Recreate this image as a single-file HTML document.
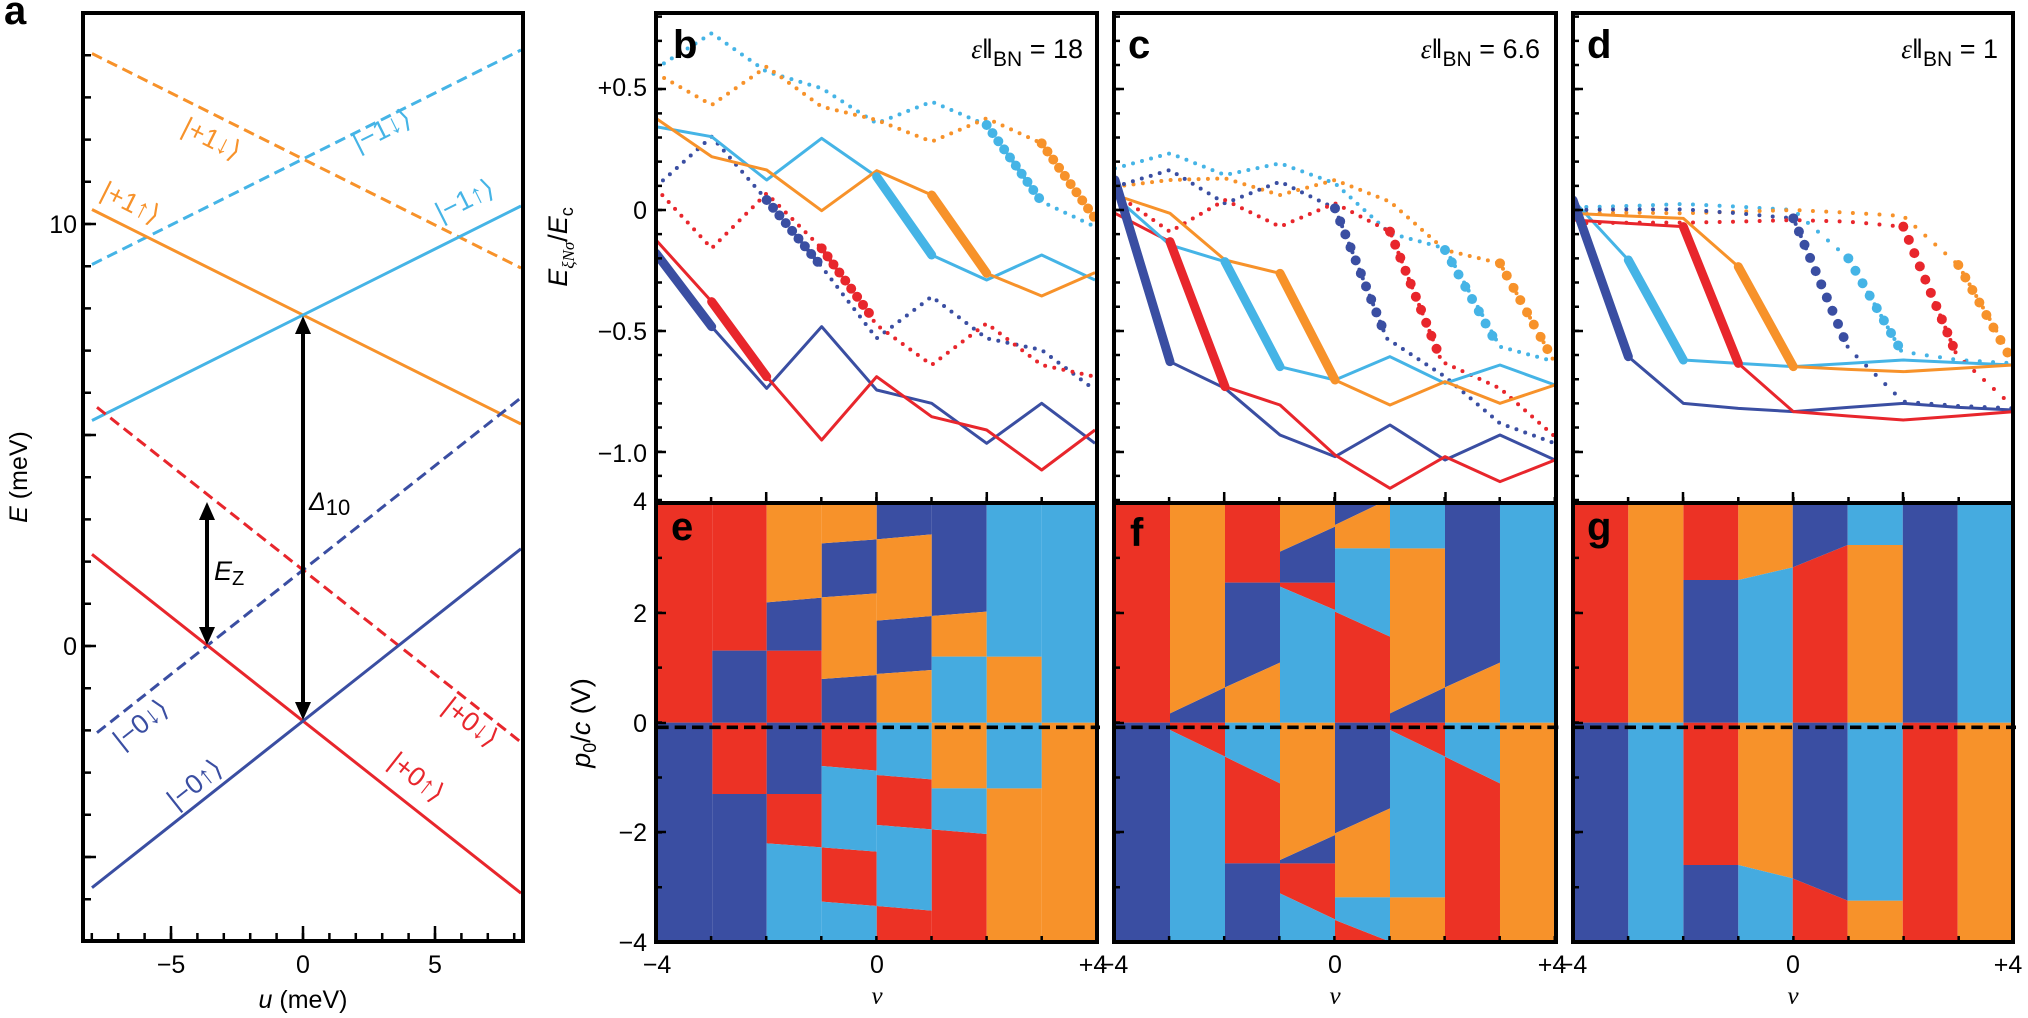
<!DOCTYPE html>
<html><head><meta charset="utf-8"><style>
html,body{margin:0;padding:0;background:#fff;}
svg{display:block;font-family:"Liberation Sans",sans-serif;}
</style></head><body>
<svg width="2028" height="1018" viewBox="0 0 2028 1018" xmlns="http://www.w3.org/2000/svg">
<defs>
<clipPath id="ca"><rect x="83" y="13" width="440" height="928"/></clipPath>
<clipPath id="cb"><rect x="656" y="13" width="441" height="490"/></clipPath>
<clipPath id="cc"><rect x="1114" y="13" width="442" height="490"/></clipPath>
<clipPath id="cd"><rect x="1573" y="13" width="440" height="490"/></clipPath>
</defs>

<!-- ============ PANEL A ============ -->
<g clip-path="url(#ca)" fill="none" stroke-width="3">
 <line x1="92" y1="53.5" x2="521" y2="268" stroke="#f7922a" stroke-dasharray="11 6"/>
 <line x1="92" y1="264.5" x2="521" y2="50" stroke="#45b4e6" stroke-dasharray="11 6"/>
 <line x1="92" y1="209.5" x2="521" y2="424" stroke="#f7922a"/>
 <line x1="92" y1="420.5" x2="521" y2="206" stroke="#45b4e6"/>
 <line x1="97" y1="407.3" x2="521" y2="742.2" stroke="#e8262c" stroke-dasharray="11 6"/>
 <line x1="97" y1="732.7" x2="521" y2="397.8" stroke="#3a4ea2" stroke-dasharray="11 6"/>
 <line x1="92" y1="554.3" x2="521" y2="893.2" stroke="#e8262c"/>
 <line x1="92" y1="887.7" x2="521" y2="548.8" stroke="#3a4ea2"/>
</g>
<g stroke="#000" stroke-width="4">
 <line x1="303" y1="330" x2="303" y2="706"/>
 <line x1="207" y1="516" x2="207" y2="632"/>
</g>
<g fill="#000">
 <polygon points="303,316 295,334 311,334"/>
 <polygon points="303,720 295,702 311,702"/>
 <polygon points="207,502 199,520 215,520"/>
 <polygon points="207,645 199,627 215,627"/>
</g>
<text x="309" y="510" font-size="25" font-style="italic">Δ<tspan font-style="normal" font-size="22" dy="5">10</tspan></text>
<text x="214" y="580" font-size="27" font-style="italic">E<tspan font-style="normal" font-size="20" dy="5">Z</tspan></text>
<g font-size="27">
 <text transform="translate(180,133) rotate(26.6)" fill="#f7922a">|+1↓⟩</text>
 <text transform="translate(358,152) rotate(-26.6)" fill="#45b4e6">|−1↓⟩</text>
 <text transform="translate(99,197) rotate(26.6)" fill="#f7922a">|+1↑⟩</text>
 <text transform="translate(441,222) rotate(-26.6)" fill="#45b4e6">|−1↑⟩</text>
 <text transform="translate(122,750) rotate(-38.3)" fill="#3a4ea2">|−0↓⟩</text>
 <text transform="translate(441,710) rotate(38.3)" fill="#e8262c">|+0↓⟩</text>
 <text transform="translate(176,810) rotate(-38.3)" fill="#3a4ea2">|−0↑⟩</text>
 <text transform="translate(387,765) rotate(38.3)" fill="#e8262c">|+0↑⟩</text>
</g>
<line x1="87" y1="11.75" x2="87" y2="941" stroke="#000" stroke-width="8" stroke-dasharray="2.5 39.7"/>
<g stroke="#000" stroke-width="2.5">
 <line x1="83" y1="224" x2="96" y2="224"/><line x1="83" y1="435" x2="96" y2="435"/>
 <line x1="83" y1="646" x2="96" y2="646"/><line x1="83" y1="857" x2="96" y2="857"/>
 <line x1="171" y1="941" x2="171" y2="926"/><line x1="303" y1="941" x2="303" y2="926"/><line x1="435" y1="941" x2="435" y2="926"/>
</g>
<line x1="90.55" y1="937" x2="516" y2="937" stroke="#000" stroke-width="8" stroke-dasharray="2.5 23.9"/>
<rect x="83" y="13" width="440" height="928" fill="none" stroke="#000" stroke-width="4"/>
<g font-size="25">
 <text x="77" y="233" text-anchor="end">10</text>
 <text x="77" y="655" text-anchor="end">0</text>
 <text x="171" y="973" text-anchor="middle">−5</text>
 <text x="303" y="973" text-anchor="middle">0</text>
 <text x="435" y="973" text-anchor="middle">5</text>
 <text x="303" y="1008" text-anchor="middle"><tspan font-style="italic">u</tspan> (meV)</text>
 <text transform="translate(27,477) rotate(-90)" text-anchor="middle"><tspan font-style="italic">E</tspan> (meV)</text>
</g>
<text x="4" y="24" font-size="40" font-weight="bold">a</text>

<!-- ============ PANEL B ============ -->
<g clip-path="url(#cb)"><g transform="translate(640,0) scale(0.33333)" fill="none" stroke-linejoin="round">
 <g stroke-width="12" stroke-linecap="round" stroke-dasharray="0 28">
  <polyline stroke="#45b4e6" points="48,205 215,100 380,215 545,265 710,370 875,305 1040,375 1205,605 1365,680"/>
  <polyline stroke="#f7922a" points="48,220 215,315 380,200 545,320 710,360 875,425 1040,355 1205,430 1365,655"/>
  <polyline stroke="#3a4ea2" points="48,560 215,410 380,600 545,800 710,1015 875,890 1040,1015 1205,1050 1365,1170"/>
  <polyline stroke="#e8262c" points="48,565 215,745 380,580 545,745 710,975 875,1095 1040,970 1205,1095 1365,1130"/>
 </g>
 <g stroke-width="30" stroke-linecap="round" stroke-dasharray="0 30">
  <polyline stroke="#45b4e6" points="1040,375 1205,605"/>
  <polyline stroke="#f7922a" points="1205,430 1365,655"/>
  <polyline stroke="#3a4ea2" points="380,600 545,800"/>
  <polyline stroke="#e8262c" points="545,745 695,950"/>
 </g>
 <g stroke-width="9">
  <polyline stroke="#3a4ea2" points="48,760 215,980 380,1165 545,980 710,1170 875,1210 1040,1330 1205,1210 1365,1330"/>
  <polyline stroke="#e8262c" points="48,720 215,905 380,1130 545,1320 710,1130 875,1250 1040,1290 1205,1410 1365,1290"/>
  <polyline stroke="#45b4e6" points="48,380 215,410 380,540 545,415 710,530 875,765 1040,840 1205,765 1365,840"/>
  <polyline stroke="#f7922a" points="48,355 215,470 380,510 545,632 710,512 875,585 1040,820 1205,888 1365,818"/>
 </g>
 <g stroke-width="27" stroke-linecap="round">
  <line stroke="#3a4ea2" x1="48" y1="760" x2="215" y2="980"/>
  <line stroke="#e8262c" x1="215" y1="905" x2="380" y2="1130"/>
  <line stroke="#45b4e6" x1="710" y1="530" x2="875" y2="765"/>
  <line stroke="#f7922a" x1="875" y1="585" x2="1040" y2="820"/>
 </g>
</g></g>

<!-- ============ PANEL C ============ -->
<g clip-path="url(#cc)"><g transform="translate(1130,0) scale(0.33333)" fill="none" stroke-linejoin="round">
 <g stroke-width="12" stroke-linecap="round" stroke-dasharray="0 28">
  <polyline stroke="#45b4e6" points="-45,505 120,460 285,525 450,490 615,550 780,700 945,745 1110,1040 1275,1085"/>
  <polyline stroke="#f7922a" points="-45,560 120,540 285,535 450,585 615,540 780,605 945,750 1110,790 1270,1080"/>
  <polyline stroke="#3a4ea2" points="-45,560 120,510 285,610 450,545 615,625 770,1015 945,1130 1110,1270 1275,1330"/>
  <polyline stroke="#e8262c" points="-45,580 120,695 285,600 450,680 615,610 780,695 935,1085 1110,1165 1275,1310"/>
 </g>
 <g stroke-width="30" stroke-linecap="round" stroke-dasharray="0 42">
  <polyline stroke="#45b4e6" points="945,750 1105,1040"/>
  <polyline stroke="#f7922a" points="1110,790 1270,1080"/>
  <polyline stroke="#3a4ea2" points="615,625 770,1015"/>
  <polyline stroke="#e8262c" points="780,695 935,1085"/>
 </g>
 <g stroke-width="9">
  <polyline stroke="#3a4ea2" points="-45,540 120,1085 285,1165 450,1305 615,1370 780,1275 945,1380 1110,1305 1275,1380"/>
  <polyline stroke="#e8262c" points="-45,640 120,725 285,1160 450,1215 615,1365 780,1465 945,1370 1110,1445 1275,1380"/>
  <polyline stroke="#45b4e6" points="-45,590 120,735 285,785 450,1100 615,1140 780,1070 945,1150 1110,1095 1275,1155"/>
  <polyline stroke="#f7922a" points="-45,585 120,640 285,780 450,820 615,1140 780,1215 945,1145 1110,1210 1275,1155"/>
 </g>
 <g stroke-width="27" stroke-linecap="round">
  <line stroke="#3a4ea2" x1="-45" y1="540" x2="120" y2="1085"/>
  <line stroke="#e8262c" x1="120" y1="725" x2="285" y2="1160"/>
  <line stroke="#45b4e6" x1="285" y1="785" x2="450" y2="1100"/>
  <line stroke="#f7922a" x1="450" y1="820" x2="615" y2="1140"/>
 </g>
</g></g>

<!-- ============ PANEL D ============ -->
<g clip-path="url(#cd)"><g transform="translate(1600,0) scale(0.33333)" fill="none" stroke-linejoin="round">
 <g stroke-width="12" stroke-linecap="round" stroke-dasharray="0 40">
  <polyline stroke="#45b4e6" points="-81,622 85,618 250,612 415,620 580,630 745,775 905,1055 1075,1080 1240,1090"/>
  <polyline stroke="#f7922a" points="-81,640 85,638 250,640 415,635 580,630 745,638 910,648 1075,795 1240,1080"/>
  <polyline stroke="#3a4ea2" points="-81,630 85,628 250,628 415,640 580,655 745,1045 910,1205 1075,1218 1240,1225"/>
  <polyline stroke="#e8262c" points="-81,670 85,668 250,668 415,665 580,660 745,665 910,680 1070,1065 1240,1220"/>
 </g>
 <g stroke-width="30" stroke-linecap="round" stroke-dasharray="0 43">
  <polyline stroke="#45b4e6" points="745,775 905,1055"/>
  <polyline stroke="#f7922a" points="1075,795 1235,1080"/>
  <polyline stroke="#3a4ea2" points="580,655 745,1045"/>
  <polyline stroke="#e8262c" points="910,680 1070,1065"/>
 </g>
 <g stroke-width="9">
  <polyline stroke="#3a4ea2" points="-81,600 85,1070 250,1210 415,1225 580,1235 745,1222 910,1210 1075,1222 1240,1230"/>
  <polyline stroke="#45b4e6" points="-81,600 85,780 250,1080 415,1090 580,1100 745,1090 910,1080 1075,1088 1240,1095"/>
  <polyline stroke="#e8262c" points="-81,660 85,670 250,680 415,1090 580,1235 745,1248 910,1260 1075,1248 1240,1235"/>
  <polyline stroke="#f7922a" points="-81,640 85,648 250,655 415,800 580,1100 745,1108 910,1115 1075,1105 1240,1095"/>
 </g>
 <g stroke-width="27" stroke-linecap="round">
  <line stroke="#3a4ea2" x1="-81" y1="600" x2="85" y2="1070"/>
  <line stroke="#45b4e6" x1="85" y1="780" x2="250" y2="1080"/>
  <line stroke="#e8262c" x1="250" y1="680" x2="415" y2="1090"/>
  <line stroke="#f7922a" x1="415" y1="800" x2="580" y2="1100"/>
 </g>
</g></g>

<!-- ============ PANEL E ============ -->
<g transform="translate(600,480) scale(0.33333)">
 <g fill="#ec3225">
  <polygon points="172,68 337,68 337,728 172,728"/>
  <polygon points="337,68 500,68 500,512 337,512"/><polygon points="337,728 500,728 500,942 337,942"/>
  <polygon points="500,512 665,512 665,728 500,728"/><polygon points="500,942 665,942 665,1102 500,1090"/>
  <polygon points="665,728 830,728 830,872 665,858"/><polygon points="665,1102 830,1115 830,1278 665,1265"/>
  <polygon points="830,885 995,898 995,1048 830,1035"/><polygon points="830,1278 995,1292 995,1385 830,1385"/>
  <polygon points="995,1048 1160,1062 1160,1385 995,1385"/>
 </g>
 <g fill="#3a4ea2">
  <polygon points="172,728 337,728 337,1385 172,1385"/>
  <polygon points="337,512 500,512 500,728 337,728"/><polygon points="337,942 500,942 500,1385 337,1385"/>
  <polygon points="500,367 665,353 665,512 500,512"/><polygon points="500,728 665,728 665,942 500,942"/>
  <polygon points="665,190 830,178 830,340 665,352"/><polygon points="665,597 830,585 830,728 665,728"/>
  <polygon points="830,68 995,68 995,163 830,178"/><polygon points="830,422 995,408 995,570 830,582"/>
  <polygon points="995,68 1160,68 1160,395 995,408"/>
 </g>
 <g fill="#f7922a">
  <polygon points="500,68 665,68 665,353 500,367"/>
  <polygon points="665,68 830,68 830,178 665,190"/><polygon points="665,352 830,340 830,585 665,597"/>
  <polygon points="830,178 995,163 995,408 830,422"/><polygon points="830,582 995,570 995,728 830,728"/>
  <polygon points="995,408 1160,395 1160,530 995,530"/>
  <polygon points="995,728 1160,728 1160,925 995,925"/>
  <polygon points="1160,530 1325,530 1325,728 1160,728"/><polygon points="1160,925 1325,925 1325,1385 1160,1385"/>
  <polygon points="1325,728 1490,728 1490,1385 1325,1385"/>
 </g>
 <g fill="#45abe0">
  <polygon points="500,1090 665,1102 665,1385 500,1385"/>
  <polygon points="665,858 830,872 830,1115 665,1102"/><polygon points="665,1265 830,1278 830,1385 665,1385"/>
  <polygon points="830,728 995,728 995,898 830,885"/><polygon points="830,1035 995,1048 995,1292 830,1278"/>
  <polygon points="995,530 1160,530 1160,728 995,728"/><polygon points="995,925 1160,925 1160,1062 995,1048"/>
  <polygon points="1160,68 1325,68 1325,530 1160,530"/><polygon points="1160,728 1325,728 1325,925 1160,925"/>
  <polygon points="1325,68 1490,68 1490,728 1325,728"/>
 </g>
 <line x1="172" y1="742" x2="1500" y2="742" stroke="#000" stroke-width="11" stroke-dasharray="34 18"/>
</g>

<!-- ============ PANEL F ============ -->
<g transform="translate(1100,480) scale(0.33333)">
 <g fill="#ec3225">
  <polygon points="42,68 210,68 210,728 42,728"/>
  <polygon points="210,728 375,728 375,830 210,750"/>
  <polygon points="375,68 540,68 540,308 375,308"/><polygon points="375,830 540,910 540,1150 375,1150"/>
  <polygon points="540,308 705,308 705,390 540,320"/><polygon points="540,1150 705,1150 705,1318 540,1240"/>
  <polygon points="705,395 870,470 870,728 705,728"/><polygon points="705,1320 870,1385 705,1385"/>
  <polygon points="870,728 1035,728 1035,830 870,750"/>
  <polygon points="1035,830 1200,910 1200,1385 1035,1385"/>
 </g>
 <g fill="#3a4ea2">
  <polygon points="42,728 210,728 210,1385 42,1385"/>
  <polygon points="210,700 375,622 375,728 210,728"/>
  <polygon points="375,308 540,308 540,548 375,622"/><polygon points="375,1150 540,1150 540,1385 375,1385"/>
  <polygon points="540,215 705,140 705,308 540,308"/><polygon points="540,1140 705,1065 705,1150 540,1150"/>
  <polygon points="705,68 845,68 705,135"/><polygon points="705,728 870,728 870,985 705,1060"/>
  <polygon points="870,700 1035,622 1035,728 870,728"/>
  <polygon points="1035,68 1200,68 1200,548 1035,622"/>
 </g>
 <g fill="#f7922a">
  <polygon points="210,68 375,68 375,622 210,700"/>
  <polygon points="375,622 540,548 540,728 375,728"/>
  <polygon points="540,68 705,68 705,140 540,215"/><polygon points="540,728 705,728 705,1065 540,1140"/>
  <polygon points="705,135 845,68 870,68 870,205 705,205"/><polygon points="705,1060 870,985 870,1252 705,1252"/>
  <polygon points="870,205 1035,205 1035,622 870,700"/><polygon points="870,1252 1035,1252 1035,1385 870,1385"/>
  <polygon points="1035,622 1200,548 1200,728 1035,728"/>
  <polygon points="1200,728 1365,728 1365,1385 1200,1385"/>
 </g>
 <g fill="#45abe0">
  <polygon points="210,750 375,830 375,1385 210,1385"/>
  <polygon points="375,728 540,728 540,910 375,830"/>
  <polygon points="540,320 705,390 705,728 540,728"/><polygon points="540,1240 705,1318 705,1385 540,1385"/>
  <polygon points="705,205 870,205 870,470 705,395"/><polygon points="705,1252 870,1252 870,1385 705,1320"/>
  <polygon points="870,68 1035,68 1035,205 870,205"/><polygon points="870,750 1035,830 1035,1252 870,1252"/>
  <polygon points="1035,728 1200,728 1200,910 1035,830"/>
  <polygon points="1200,68 1365,68 1365,728 1200,728"/>
 </g>
 <line x1="42" y1="742" x2="1375" y2="742" stroke="#000" stroke-width="11" stroke-dasharray="34 18"/>
</g>

<!-- ============ PANEL G ============ -->
<g transform="translate(1560,480) scale(0.33333)">
 <g fill="#ec3225">
  <polygon points="38,68 205,68 205,728 38,728"/>
  <polygon points="370,68 535,68 535,300 370,300"/><polygon points="370,728 535,728 535,1155 370,1155"/>
  <polygon points="698,262 863,195 863,728 698,728"/><polygon points="698,1195 863,1262 863,1385 698,1385"/>
  <polygon points="1028,728 1193,728 1193,1385 1028,1385"/>
 </g>
 <g fill="#3a4ea2">
  <polygon points="38,728 205,728 205,1385 38,1385"/>
  <polygon points="370,300 535,300 535,728 370,728"/><polygon points="370,1155 535,1155 535,1385 370,1385"/>
  <polygon points="698,68 863,68 863,195 698,262"/><polygon points="698,728 863,728 863,1262 698,1195"/>
  <polygon points="1028,68 1193,68 1193,728 1028,728"/>
 </g>
 <g fill="#f7922a">
  <polygon points="205,68 370,68 370,728 205,728"/>
  <polygon points="535,68 698,68 698,262 535,300"/><polygon points="535,728 698,728 698,1195 535,1155"/>
  <polygon points="863,195 1028,195 1028,728 863,728"/><polygon points="863,1262 1028,1262 1028,1385 863,1385"/>
  <polygon points="1193,728 1355,728 1355,1385 1193,1385"/>
 </g>
 <g fill="#45abe0">
  <polygon points="205,728 370,728 370,1385 205,1385"/>
  <polygon points="535,300 698,262 698,728 535,728"/><polygon points="535,1155 698,1195 698,1385 535,1385"/>
  <polygon points="863,68 1028,68 1028,195 863,195"/><polygon points="863,728 1028,728 1028,1262 863,1262"/>
  <polygon points="1193,68 1355,68 1355,728 1193,728"/>
 </g>
 <line x1="38" y1="742" x2="1368" y2="742" stroke="#000" stroke-width="11" stroke-dasharray="34 18"/>
</g>

<!-- ticks for b-g -->
<g stroke="#000">
 <g stroke-width="6" stroke-dasharray="2.5 21.67">
  <line x1="659" y1="15.4" x2="659" y2="503"/><line x1="1117" y1="15.4" x2="1117" y2="503"/><line x1="1576" y1="15.4" x2="1576" y2="503"/>
 </g>
 <g stroke-width="2.5">
  <line x1="656" y1="89" x2="666" y2="89"/><line x1="656" y1="210" x2="666" y2="210"/><line x1="656" y1="331" x2="666" y2="331"/><line x1="656" y1="452" x2="666" y2="452"/>
  <line x1="1114" y1="89" x2="1124" y2="89"/><line x1="1114" y1="210" x2="1124" y2="210"/><line x1="1114" y1="331" x2="1124" y2="331"/><line x1="1114" y1="452" x2="1124" y2="452"/>
  <line x1="1573" y1="89" x2="1583" y2="89"/><line x1="1573" y1="210" x2="1583" y2="210"/><line x1="1573" y1="331" x2="1583" y2="331"/><line x1="1573" y1="452" x2="1583" y2="452"/>
 </g>
 <g stroke-width="6" stroke-dasharray="2.5 52.6">
  <line x1="709.85" y1="500" x2="1097" y2="500"/><line x1="1167.85" y1="500" x2="1556" y2="500"/><line x1="1626.85" y1="500" x2="2013" y2="500"/>
  <line x1="709.85" y1="939" x2="1097" y2="939"/><line x1="1167.85" y1="939" x2="1556" y2="939"/><line x1="1626.85" y1="939" x2="2013" y2="939"/>
 </g>
 <g stroke-width="2.5">
  <line x1="766.2" y1="503" x2="766.2" y2="492"/><line x1="876.5" y1="503" x2="876.5" y2="492"/><line x1="986.8" y1="503" x2="986.8" y2="492"/>
  <line x1="1224.2" y1="503" x2="1224.2" y2="492"/><line x1="1335" y1="503" x2="1335" y2="492"/><line x1="1445.5" y1="503" x2="1445.5" y2="492"/>
  <line x1="1683" y1="503" x2="1683" y2="492"/><line x1="1793" y1="503" x2="1793" y2="492"/><line x1="1903" y1="503" x2="1903" y2="492"/>
 </g>
 <g stroke-width="6" stroke-dasharray="2.5 52.4">
  <line x1="659" y1="556.6" x2="659" y2="942"/><line x1="1117" y1="556.6" x2="1117" y2="942"/><line x1="1576" y1="556.6" x2="1576" y2="942"/>
 </g>
 <g stroke-width="2.5">
  <line x1="656" y1="613" x2="666" y2="613"/><line x1="656" y1="723" x2="666" y2="723"/><line x1="656" y1="832" x2="666" y2="832"/>
  <line x1="1114" y1="613" x2="1124" y2="613"/><line x1="1114" y1="723" x2="1124" y2="723"/><line x1="1114" y1="832" x2="1124" y2="832"/>
  <line x1="1573" y1="613" x2="1583" y2="613"/><line x1="1573" y1="723" x2="1583" y2="723"/><line x1="1573" y1="832" x2="1583" y2="832"/>
 </g>
</g>

<g fill="none" stroke="#000" stroke-width="4">
 <rect x="656" y="13" width="441" height="929"/><line x1="656" y1="503" x2="1097" y2="503"/>
 <rect x="1114" y="13" width="442" height="929"/><line x1="1114" y1="503" x2="1556" y2="503"/>
 <rect x="1573" y="13" width="440" height="929"/><line x1="1573" y1="503" x2="2013" y2="503"/>
</g>

<g font-size="40" font-weight="bold">
 <text x="673" y="58">b</text><text x="1128" y="58">c</text><text x="1587" y="58">d</text>
 <text x="671" y="540">e</text><text x="1130" y="546">f</text><text x="1587" y="540">g</text>
</g>
<g font-size="27" text-anchor="end">
 <text x="1083" y="58"><tspan font-family="Liberation Serif" font-style="italic">ε</tspan>ǁ<tspan font-size="21" dy="8">BN</tspan><tspan dy="-8"> = 18</tspan></text>
 <text x="1540" y="58"><tspan font-family="Liberation Serif" font-style="italic">ε</tspan>ǁ<tspan font-size="21" dy="8">BN</tspan><tspan dy="-8"> = 6.6</tspan></text>
 <text x="1998" y="58"><tspan font-family="Liberation Serif" font-style="italic">ε</tspan>ǁ<tspan font-size="21" dy="8">BN</tspan><tspan dy="-8"> = 1</tspan></text>
</g>
<g font-size="25" text-anchor="end">
 <text x="647" y="96">+0.5</text><text x="647" y="219">0</text><text x="647" y="340">−0.5</text><text x="647" y="462">−1.0</text>
 <text x="647" y="510">4</text><text x="647" y="622">2</text><text x="647" y="732">0</text><text x="647" y="841">−2</text><text x="647" y="951">−4</text>
</g>
<g font-size="25" text-anchor="middle">
 <text x="657" y="973">−4</text><text x="877" y="973">0</text><text x="1093" y="973">+4</text>
 <text x="1114" y="973">−4</text><text x="1335" y="973">0</text><text x="1552" y="973">+4</text>
 <text x="1573" y="973">−4</text><text x="1793" y="973">0</text><text x="2008" y="973">+4</text>
 <text x="877" y="1004" font-family="Liberation Serif" font-style="italic">ν</text>
 <text x="1335" y="1004" font-family="Liberation Serif" font-style="italic">ν</text>
 <text x="1793" y="1004" font-family="Liberation Serif" font-style="italic">ν</text>
</g>
<text transform="translate(567,247) rotate(-90)" font-size="27" text-anchor="middle"><tspan font-style="italic">E</tspan><tspan font-size="17" dy="7" font-family="Liberation Serif" font-style="italic">ξNσ</tspan><tspan dy="-7">/</tspan><tspan font-style="italic">E</tspan><tspan font-size="18" dy="6">c</tspan></text>
<text transform="translate(590,723) rotate(-90)" font-size="27" text-anchor="middle"><tspan font-style="italic">p</tspan><tspan font-size="18" dy="6">0</tspan><tspan dy="-6">/</tspan><tspan font-style="italic">c</tspan> (V)</text>
</svg>
</body></html>
